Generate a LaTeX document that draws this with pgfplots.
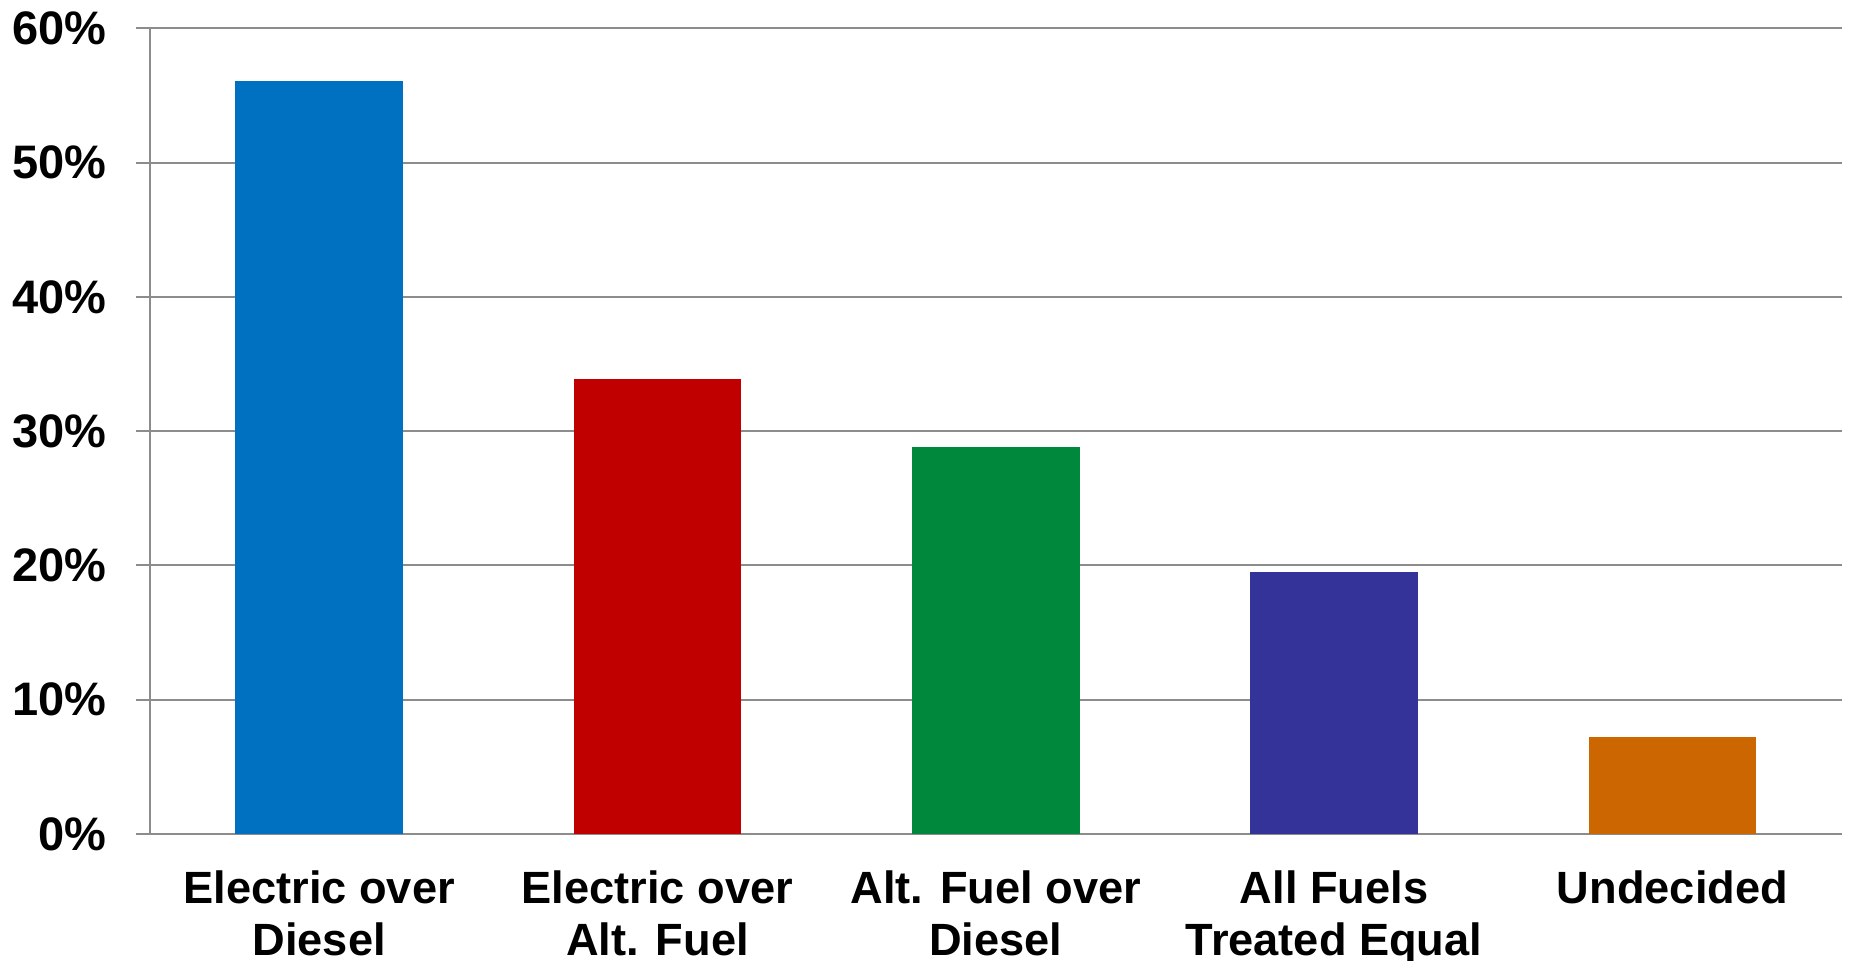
\documentclass[border=0pt]{standalone}
\usepackage{fontspec}
\setmainfont{Liberation Sans}
\usepackage{pgfplots}
\pgfplotsset{compat=1.18}
\definecolor{cblue}{HTML}{0070C0}
\definecolor{cred}{HTML}{C00000}
\definecolor{cgreen}{HTML}{00893D}
\definecolor{cpurple}{HTML}{333399}
\definecolor{corange}{HTML}{CC6600}
\definecolor{gridgray}{HTML}{8C8C8C}
\begin{document}
\begin{tikzpicture}
\begin{axis}[
  scale only axis, width=845.8pt, height=402.85pt,
  xmin=-0.5, xmax=4.5, ymin=0, ymax=60,
  axis x line*=bottom, axis y line*=left,
  axis line style={-, draw=gridgray, line width=1pt},
  xtick={0,1,2,3,4},
  xticklabels={{Electric over\\Diesel},{Electric over\\Alt. Fuel},{Alt. Fuel over\\Diesel},{All Fuels\\Treated Equal},{Undecided}},
  x tick label style={align=center, font=\fontsize{22.6}{26}\selectfont\bfseries, inner sep=0pt, anchor=north, yshift=-11pt},
  major x tick style={draw=none},
  ytick={0,10,20,30,40,50,60},
  yticklabel={\pgfmathprintnumber{\tick}\%},
  /pgf/number format/assume math mode=true,
  y tick label style={font=\fontsize{23.5}{28}\selectfont\bfseries, inner sep=0pt, anchor=east, xshift=-14.5pt},
  tick align=outside, major tick length=7pt,
  major y tick style={draw=gridgray, line width=1pt},
  ymajorgrids, major grid style={draw=gridgray, line width=1pt},
  bar width=0.495, bar shift=0pt,
]
\addplot[ybar, fill=cblue, draw=none] coordinates {(0,56.1)};
\addplot[ybar, fill=cred, draw=none] coordinates {(1,33.9)};
\addplot[ybar, fill=cgreen, draw=none] coordinates {(2,28.8)};
\addplot[ybar, fill=cpurple, draw=none] coordinates {(3,19.5)};
\addplot[ybar, fill=corange, draw=none] coordinates {(4,7.2)};
\coordinate (bl) at (rel axis cs:0,0);
\end{axis}
\pgfresetboundingbox
\path[use as bounding box] (bl) ++(-75pt,-63.5pt) rectangle ++(925pt,480.5pt);
\end{tikzpicture}
\end{document}
